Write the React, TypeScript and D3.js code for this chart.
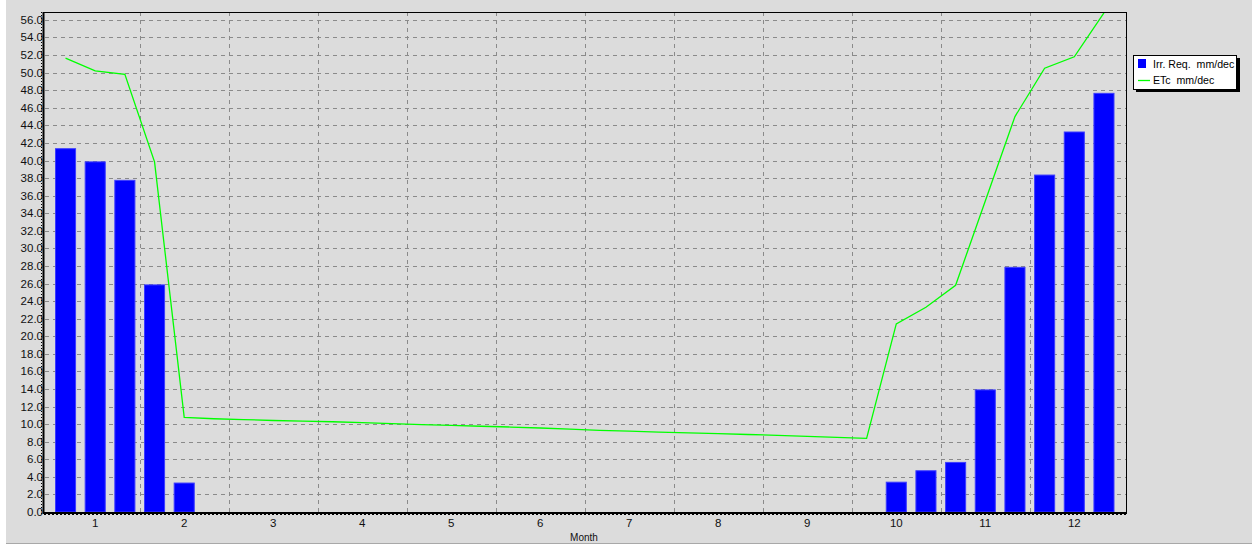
import React from "react";
import * as d3 from "d3";

// Decade index (0..35), three decades per month
const decades: number[] = d3.range(36);

// Irrigation requirement per decade, mm/dec
const irrReq: number[] = [
  41.4, 39.9, 37.8, 25.9, 3.35,
  0, 0, 0, 0, 0, 0, 0, 0, 0, 0, 0, 0, 0, 0, 0, 0, 0, 0, 0, 0, 0, 0, 0,
  3.45, 4.75, 5.7, 13.95, 27.9, 38.4, 43.3, 47.7,
];

// Crop evapotranspiration per decade, mm/dec
const etc: number[] = [
  51.65, 50.2, 49.8, 39.85, 10.77, 10.61, 10.52, 10.41, 10.35, 10.27, 10.18, 10.05,
  9.95, 9.86, 9.76, 9.67, 9.56, 9.42, 9.29, 9.2, 9.1, 9.01, 8.91, 8.82,
  8.73, 8.61, 8.5, 8.38, 21.4, 23.3, 25.8, 35.4, 45.0, 50.5, 51.8, 56.8,
];

const monthLabels: string[] = ["1", "2", "3", "4", "5", "6", "7", "8", "9", "10", "11", "12"];
const yTicks: number[] = d3.range(0, 57, 2);

const legendItems: string[] = ["Irr. Req.  mm/dec", "ETc  mm/dec"];

const W = 1252;
const H = 546;
const plot = { left: 44, right: 1126, top: 12, bottom: 512 };
const font = "'Liberation Sans', Arial, sans-serif";

export default function App() {
  const x = d3
    .scaleBand<number>()
    .domain(decades)
    .range([50.7, 1118.8])
    .paddingInner(0.29)
    .paddingOuter(0.145);
  const y = d3.scaleLinear().domain([0, 56.9]).range([plot.bottom, plot.top]);
  const cx = (i: number) => (x(i) as number) + x.bandwidth() / 2;
  const step = x.step();
  const bandStart = (x(0) as number) - (step - x.bandwidth()) / 2;

  const line = d3
    .line<number>()
    .x((_, i) => cx(i))
    .y((d) => y(d));

  const monthBounds = d3.range(1, 12).map((k) => bandStart + k * 3 * step);

  return (
    <svg
      width={W}
      height={H}
      style={{ position: "absolute", left: 0, top: 0, display: "block" }}
      fontFamily={font}
    >
      <defs>
        <clipPath id="plot-clip">
          <rect x={plot.left} y={plot.top} width={plot.right - plot.left} height={plot.bottom - plot.top} />
        </clipPath>
      </defs>
      <rect x={0} y={0} width={W} height={H} fill="#ffffff" />
      <rect x={6} y={0} width={W - 6} height={543} fill="#dcdcdc" />
      <line x1={6} x2={W} y1={543.5} y2={543.5} stroke="#a8a8a8" />

      {/* horizontal grid */}
      {yTicks.slice(1).map((t) => (
        <line
          key={"h" + t}
          x1={plot.left + 1}
          x2={plot.right}
          y1={Math.round(y(t)) + 0.5}
          y2={Math.round(y(t)) + 0.5}
          stroke="#8a8a8a"
          strokeDasharray="4,4"
        />
      ))}
      {/* vertical grid at month boundaries */}
      {monthBounds.map((b, k) => (
        <line
          key={"v" + k}
          x1={Math.round(b) + 0.5}
          x2={Math.round(b) + 0.5}
          y1={plot.top}
          y2={plot.bottom}
          stroke="#8a8a8a"
          strokeDasharray="4,4"
        />
      ))}

      {/* bars */}
      <g clipPath="url(#plot-clip)">
        {irrReq.map((v, i) =>
          v > 0 ? (
            <rect
              key={"b" + i}
              x={(x(i) as number) + 0.5}
              y={y(v) + 0.5}
              width={x.bandwidth() - 1}
              height={y(0) - y(v) - 0.5}
              fill="#0000ff"
              stroke="#3c3cff"
              strokeWidth={1}
            />
          ) : null
        )}
        <path d={line(etc) ?? ""} fill="none" stroke="#00ff00" strokeWidth={1.3} />
      </g>

      {/* frame */}
      <line x1={plot.left} x2={plot.right} y1={plot.top + 0.5} y2={plot.top + 0.5} stroke="#000" />
      <line x1={plot.right + 0.5} x2={plot.right + 0.5} y1={plot.top} y2={plot.bottom + 2} stroke="#000" />

      {/* y axis */}
      <line x1={43.5} x2={43.5} y1={plot.top} y2={plot.bottom + 2} stroke="#000" strokeWidth={2} />
      <line x1={41.5} x2={41.5} y1={plot.top} y2={plot.bottom + 2} stroke="#000" strokeDasharray="1,2" />
      {yTicks.map((t) => (
        <text
          key={"yl" + t}
          x={43}
          y={y(t)}
          textAnchor="end"
          dominantBaseline="central"
          fontSize={11.5}
          fill="#101010"
        >
          {t.toFixed(1)}
        </text>
      ))}

      {/* x axis */}
      <line x1={plot.left} x2={plot.right + 1} y1={513} y2={513} stroke="#000" strokeWidth={2} />
      <line x1={plot.left} x2={plot.right + 1} y1={514.5} y2={514.5} stroke="#000" strokeDasharray="2,2" />
      {monthLabels.map((m, k) => (
        <text key={"m" + k} x={cx(3 * k + 1)} y={527} textAnchor="middle" fontSize={11.5} fill="#101010">
          {m}
        </text>
      ))}
      <text x={584} y={541} textAnchor="middle" fontSize={10} fill="#101010">
        Month
      </text>

      {/* legend */}
      <rect x={1136} y={58} width={104} height={34} fill="#000" />
      <rect x={1133.5} y={55.5} width={103} height={34} fill="#fff" stroke="#000" />
      <rect x={1138} y={59} width={8} height={9} fill="#0000ff" />
      <line x1={1138} x2={1150} y1={80.5} y2={80.5} stroke="#00ff00" strokeWidth={1.3} />
      <text x={1153} y={68} fontSize={10.6} fill="#000" style={{ whiteSpace: "pre" }}>
        {legendItems[0]}
      </text>
      <text x={1153} y={84} fontSize={10.6} fill="#000" style={{ whiteSpace: "pre" }}>
        {legendItems[1]}
      </text>
    </svg>
  );
}
